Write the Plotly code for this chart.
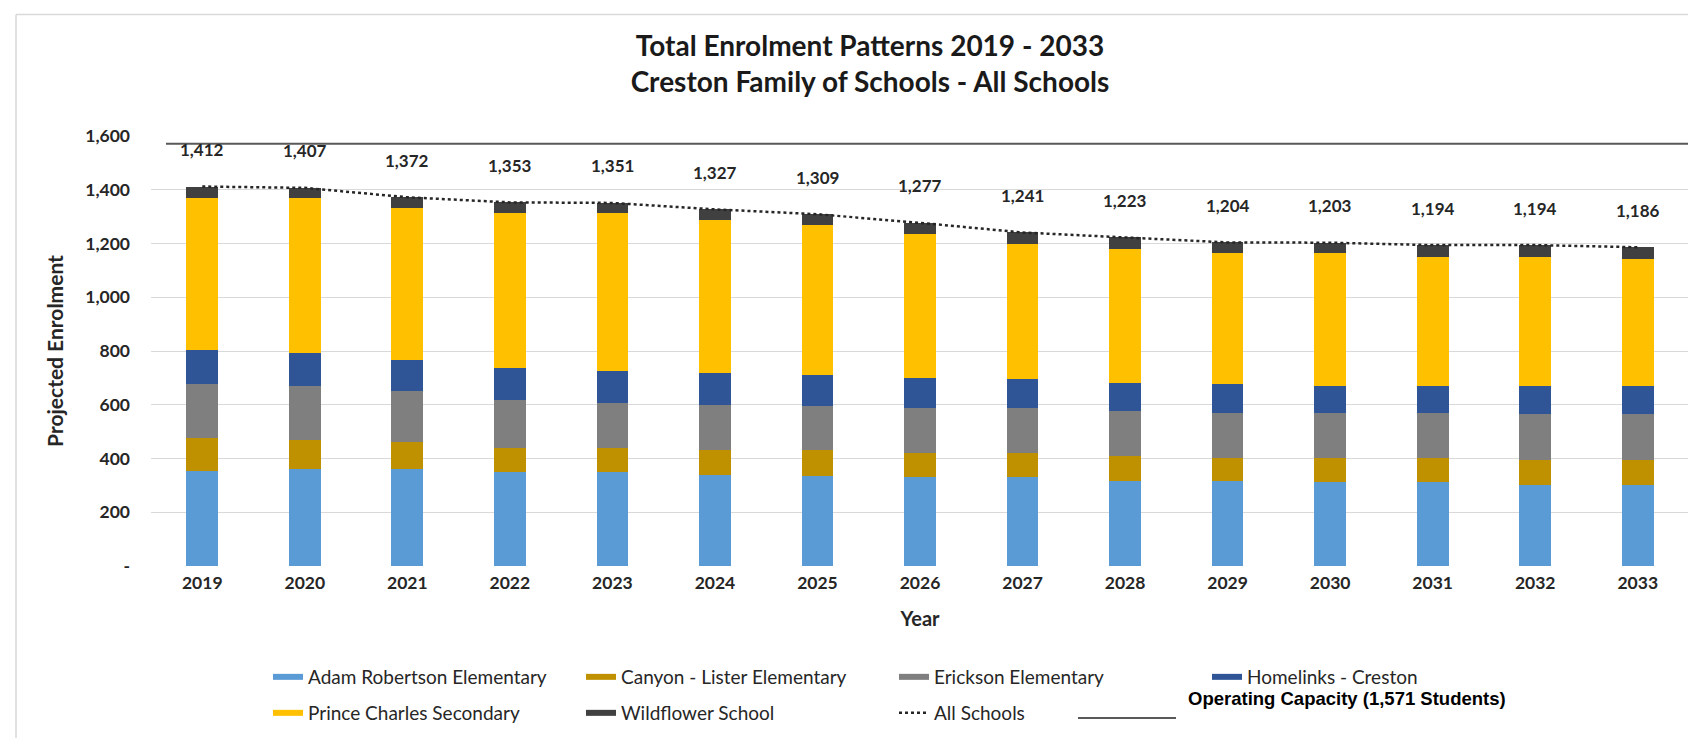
import plotly.graph_objects as go

YEARS = [2019, 2020, 2021, 2022, 2023, 2024, 2025, 2026, 2027, 2028, 2029, 2030, 2031, 2032, 2033]
ADAM_ROBERTSON = [355, 362, 362, 350, 350, 340, 336, 330, 330, 318, 318, 313, 313, 303, 303]
CANYON_LISTER = [122, 106, 101, 90, 90, 93, 97, 91, 91, 91, 84, 89, 89, 93, 93]
ERICKSON = [199, 201, 187, 178, 167, 167, 162, 167, 167, 168, 168, 168, 168, 168, 168]
HOMELINKS = [128, 123, 117, 119, 118, 119, 117, 112, 106, 104, 106, 100, 100, 106, 106]
PRINCE_CHARLES = [564, 576, 564, 576, 588, 567, 556, 536, 505, 499, 488, 494, 479, 479, 473]
WILDFLOWER = [44, 39, 41, 40, 38, 41, 41, 41, 42, 43, 40, 39, 45, 45, 43]
ALL_SCHOOLS = [1412, 1407, 1372, 1353, 1351, 1327, 1309, 1277, 1241, 1223, 1204, 1203, 1194, 1194, 1186]
CAPACITY = 1571
Y_TICKS = [0, 200, 400, 600, 800, 1000, 1200, 1400, 1600]

SERIES = [
    ("Adam Robertson Elementary", ADAM_ROBERTSON, "#5B9BD5", "legend"),
    ("Canyon - Lister Elementary", CANYON_LISTER, "#BF9000", "legend"),
    ("Erickson Elementary", ERICKSON, "#7F7F7F", "legend"),
    ("Homelinks - Creston", HOMELINKS, "#2F5597", "legend"),
    ("Prince Charles Secondary", PRINCE_CHARLES, "#FFC000", "legend2"),
    ("Wildflower School", WILDFLOWER, "#404040", "legend2"),
]

W, H = 1696, 738
ML, MR, MT, MB = 143, 15, 128, 180
PW, PH = W - ML - MR, H - MT - MB


def px_x(px):
    return (px - ML) / PW


def px_y(py):
    return (H - MB - py) / PH


fig = go.Figure()
for name, vals, color, lg in SERIES:
    fig.add_trace(go.Bar(x=YEARS, y=vals, name=name, marker_color=color,
                         marker_line_width=0, width=0.31, legendgroup=name,
                         showlegend=False))
    # legend swatch (wide flat bar look, as in the original)
    fig.add_trace(go.Scatter(x=[None], y=[None], name=name, mode="lines",
                             line=dict(color=color, width=6), legendgroup=name,
                             legend=lg, hoverinfo="skip"))

fig.add_trace(go.Scatter(x=YEARS, y=ALL_SCHOOLS, name="All Schools", mode="lines",
                         line=dict(color="#262626", width=2.5, dash="dot"),
                         legend="legend2"))

# operating capacity line
fig.add_shape(type="line", xref="paper", yref="y", x0=px_x(158), x1=px_x(1700),
              y0=CAPACITY, y1=CAPACITY, line=dict(color="#595959", width=2), layer="above")
# its legend sample
fig.add_shape(type="line", xref="paper", yref="paper", x0=px_x(1070), x1=px_x(1168),
              y0=px_y(710), y1=px_y(710), line=dict(color="#595959", width=2))
fig.add_annotation(x=px_x(1178), y=px_y(690), xref="paper", yref="paper",
                   text=f"<b>Operating Capacity ({CAPACITY:,} Students)</b>", showarrow=False,
                   xanchor="left", yanchor="middle",
                   font=dict(size=18.5, color="#000000", family="Liberation Sans"))

# total labels
for yr, tot in zip(YEARS, ALL_SCHOOLS):
    fig.add_annotation(x=yr, y=tot, text=f"<b>{tot:,}</b>", showarrow=False, yshift=37,
                       yanchor="middle", font=dict(size=17, color="#262626", family="Lato"))

# outer frame lines (top and left)
fig.add_shape(type="line", xref="paper", yref="paper", x0=px_x(8), x1=px_x(1700),
              y0=px_y(6.5), y1=px_y(6.5), line=dict(color="#D9D9D9", width=1.5))
fig.add_shape(type="line", xref="paper", yref="paper", x0=px_x(8), x1=px_x(8),
              y0=px_y(6.5), y1=px_y(740), line=dict(color="#D9D9D9", width=1.5))

legend_common = dict(orientation="h", xanchor="left", yanchor="middle",
                     font=dict(size=19, color="#262626", family="Lato"),
                     entrywidthmode="pixels", entrywidth=268, traceorder="normal",
                     bgcolor="rgba(0,0,0,0)", itemwidth=30)

fig.update_layout(
    width=W, height=H,
    margin=dict(l=ML, r=MR, t=MT, b=MB),
    paper_bgcolor="white", plot_bgcolor="white",
    barmode="stack",
    font=dict(family="Lato", color="#262626"),
    title=dict(text="<b>Total Enrolment Patterns 2019 - 2033<br>Creston Family of Schools - All Schools</b>",
               x=862 / W, xanchor="center", xref="container",
               y=1 - 48 / H, yanchor="top", yref="container",
               font=dict(size=28, color="#1a1a1a", family="Lato")),
    xaxis=dict(tickmode="array", tickvals=YEARS, ticktext=[str(y) for y in YEARS],
               range=[YEARS[0] - 0.5, YEARS[-1] + 0.5], showgrid=False, zeroline=False,
               showline=False, ticks="", ticklabelstandoff=4,
               tickfont=dict(size=17.5, family="Lato", color="#262626", weight="bold"),
               title=dict(text="<b>Year</b>", standoff=20,
                          font=dict(size=20, family="Lato", color="#262626"))),
    yaxis=dict(tickmode="array", tickvals=Y_TICKS,
               ticktext=["-" if v == 0 else f"{v:,}" for v in Y_TICKS],
               range=[0, 1600], showgrid=True, gridcolor="#D9D9D9", gridwidth=1,
               zeroline=False, showline=False, ticks="", ticklabelstandoff=20,
               tickfont=dict(size=17.5, family="Lato", color="#262626", weight="bold"),
               title=dict(text="<b>Projected Enrolment</b>", standoff=15,
                          font=dict(size=21, family="Lato", color="#262626"))),
    legend=dict(x=px_x(260), y=px_y(669), **legend_common),
    legend2=dict(x=px_x(260), y=px_y(705), **legend_common),
    showlegend=True,
)

fig.write_html("out.html")
